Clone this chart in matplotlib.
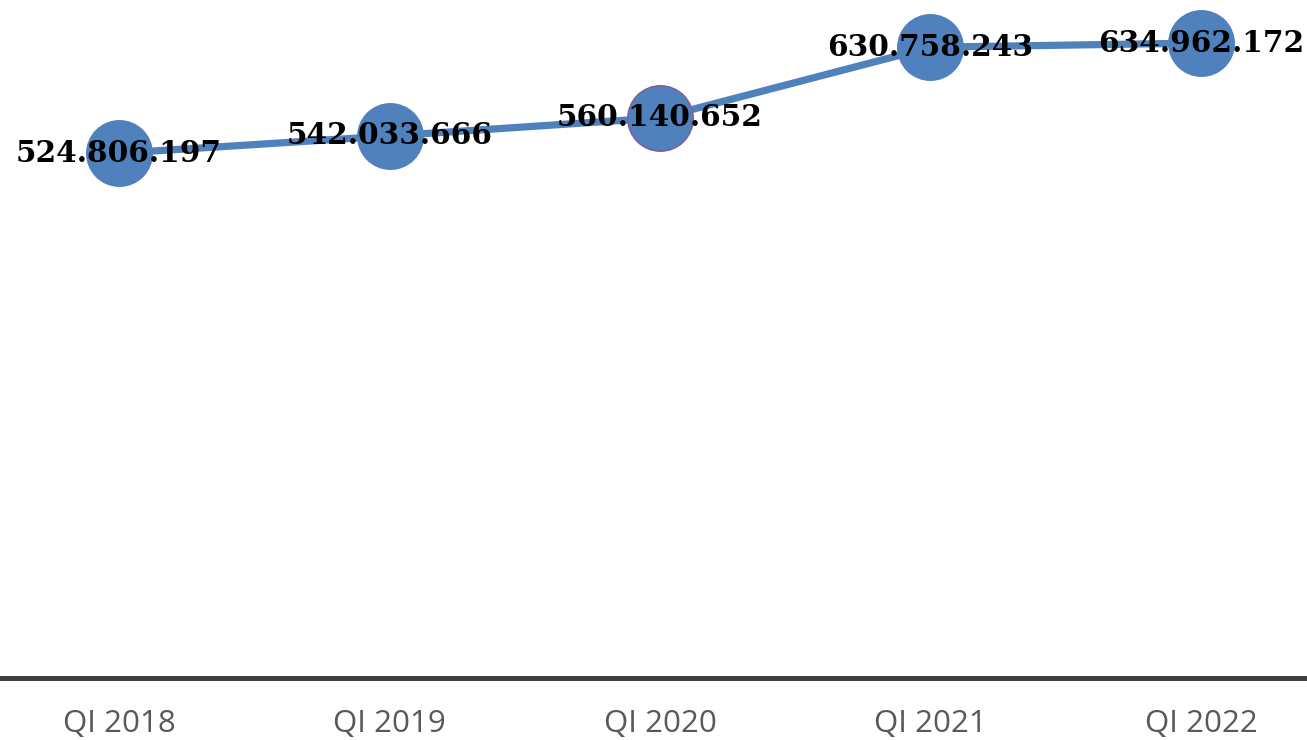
import matplotlib
matplotlib.use("Agg")
import matplotlib.pyplot as plt

categories = ["QI 2018", "QI 2019", "QI 2020", "QI 2021", "QI 2022"]
values = [524806197, 542033666, 560140652, 630758243, 634962172]
labels = ["524.806.197", "542.033.666", "560.140.652", "630.758.243", "634.962.172"]

blue = "#4F81BD"
fig = plt.figure(figsize=(13.07, 7.4), dpi=100)
ax = fig.add_axes([0, 62/740, 1, 678/740])
x = list(range(len(categories)))
ax.plot(x, values, color=blue, linewidth=5.2, solid_capstyle="round", zorder=2, clip_on=False)
edge = [blue, blue, "#7F5FA0", blue, blue]
for i, v in enumerate(values):
    ax.plot(i, v, marker="o", markersize=47, markerfacecolor=blue,
            markeredgecolor=edge[i], markeredgewidth=1.2, zorder=3, clip_on=False)
    ax.text(i, v, labels[i], ha="center", va="center", fontsize=21.3,
            fontweight="bold", family="DejaVu Serif", color="black", zorder=4)

ax.set_xlim(-0.44, 4.392)
ax.set_ylim(0, 678e6)
ax.set_xticks(x)
ax.set_xticklabels(categories, fontsize=22.5, family="Open Sans", color="#595959")
ax.tick_params(axis="x", length=0, pad=22)
ax.set_yticks([])
for s in ["top", "left", "right"]:
    ax.spines[s].set_visible(False)
ax.spines["bottom"].set_linewidth(3.6)
ax.spines["bottom"].set_color("#404040")
fig.savefig("out.png", dpi=100)
